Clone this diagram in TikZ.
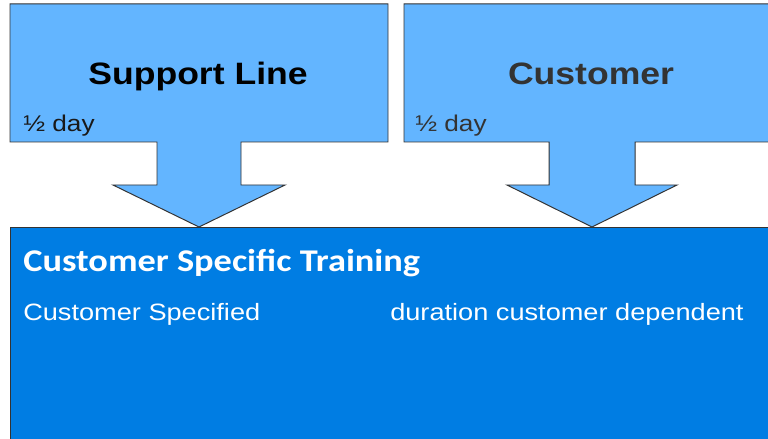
\documentclass[tikz,border=0pt]{standalone}
\usepackage{fontspec}
\setmainfont{Liberation Sans}
\newfontfamily\arialw{Liberation Sans}[FakeStretch=1.15]
\newfontfamily\carlw{Carlito}[FakeStretch=1.15]
\usepackage{xcolor}
\usepackage{tikz}
\usetikzlibrary{positioning}
\definecolor{calloutblue}{RGB}{99,181,255}
\definecolor{boxblue}{RGB}{0,125,227}
\definecolor{darktext}{RGB}{51,51,51}
\tikzset{
    callout/.style = {draw=darktext, fill=calloutblue, line width=0.7pt, line join=miter},
    bigbox/.style = {draw=darktext, fill=boxblue, line width=0.7pt},
    headtext/.style = {anchor=base, inner sep=0pt, font=\arialw\bfseries\fontsize{22}{26}\selectfont},
    daytext/.style = {anchor=base west, inner sep=0pt, font=\arialw\fontsize{16.2}{19}\selectfont},
    titletext/.style = {anchor=base west, inner sep=0pt, text=white, font=\carlw\bfseries\fontsize{22.5}{26}\selectfont},
    bodytext/.style = {anchor=base west, inner sep=0pt, text=white, font=\arialw\fontsize{16.8}{20}\selectfont},
}
\begin{document}
\begin{tikzpicture}
\useasboundingbox (0,0) rectangle (19.2,10.975);
\clip (0,0) rectangle (19.2,10.975);
\fill[white] (0,0) rectangle (19.2,10.975);
% training box
\draw[bigbox] (0.25,-1) rectangle (20,5.3);
% support line callout
\draw[callout] (0.25,10.875) -- (9.7,10.875) -- (9.7,7.425) -- (6.025,7.425) -- (6.025,6.35)
    -- (7.125,6.35) -- (4.975,5.3) -- (2.825,6.35) -- (3.925,6.35) -- (3.925,7.425) -- (0.25,7.425) -- cycle;
% customer callout
\draw[callout] (10.1,10.875) -- (20,10.875) -- (20,7.425) -- (15.875,7.425) -- (15.875,6.35)
    -- (16.925,6.35) -- (14.8,5.3) -- (12.675,6.35) -- (13.725,6.35) -- (13.725,7.425) -- (10.1,7.425) -- cycle;
%
\node[headtext] (support) at (4.95,8.85) {Support Line};
\node[headtext, text=darktext] (customer) at (14.775,8.85) {Customer};
\node[daytext, text=black!90] (supportday) at (0.575,7.68) {½ day};
\node[daytext, text=darktext] (customerday) at (10.375,7.68) {½ day};
%
\node[titletext] (training) at (0.575,4.18) {Customer Specific Training};
\node[bodytext] (specified) at (0.575,2.95) {Customer Specified};
\node[bodytext] (duration) at (9.75,2.95) {duration customer dependent};
\end{tikzpicture}
\end{document}
